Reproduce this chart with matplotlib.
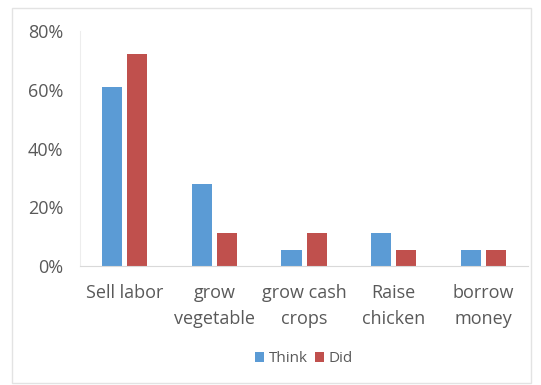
import numpy as np
import matplotlib.pyplot as plt
from matplotlib.patches import Rectangle
from matplotlib.ticker import PercentFormatter

# share of respondents (n = 18) per coping strategy
categories = ['Sell labor', 'grow\nvegetable', 'grow cash\ncrops', 'Raise\nchicken', 'borrow\nmoney']
think = [11 / 18, 5 / 18, 1 / 18, 2 / 18, 1 / 18]
did = [13 / 18, 2 / 18, 2 / 18, 1 / 18, 1 / 18]

plt.rcParams['font.family'] = ['Open Sans', 'DejaVu Sans']
txt = '#595959'

fig = plt.figure(figsize=(5.41, 3.85), dpi=100)
ax = fig.add_axes([0.148, 0.309, 0.828, 0.61])

x = np.arange(len(categories))
w = 0.225
ax.bar(x - 0.14, think, w, color='#5B9BD5', label='Think')
ax.bar(x + 0.14, did, w, color='#C0504D', label='Did')

ax.set_xlim(-0.5, len(categories) - 0.5)
ax.set_ylim(0, 0.8)
ax.set_yticks([0, 0.2, 0.4, 0.6, 0.8])
ax.yaxis.set_major_formatter(PercentFormatter(1.0, decimals=0))
ax.set_xticks(x)
ax.set_xticklabels(categories, linespacing=1.6)
ax.tick_params(axis='both', length=0, labelsize=13, labelcolor=txt)
ax.tick_params(axis='y', pad=12)
ax.tick_params(axis='x', pad=13)

for s in ['top', 'right']:
    ax.spines[s].set_visible(False)
ax.spines['left'].set_color('#EDEDED')
ax.spines['bottom'].set_color('#D9D9D9')

ax.legend(loc='center', bbox_to_anchor=(0.5, -0.395), ncol=2, frameon=False,
          fontsize=11, labelcolor=txt, handlelength=0.6, handleheight=0.6,
          handletextpad=0.3, columnspacing=0.5)

# light outer frame around the whole chart
fig.patches.append(Rectangle((12 / 541, 2 / 385), 519 / 541, 375 / 385,
                             transform=fig.transFigure, fill=False,
                             edgecolor='#E3E3E3', linewidth=1))

fig.savefig('out.png', dpi=100)
